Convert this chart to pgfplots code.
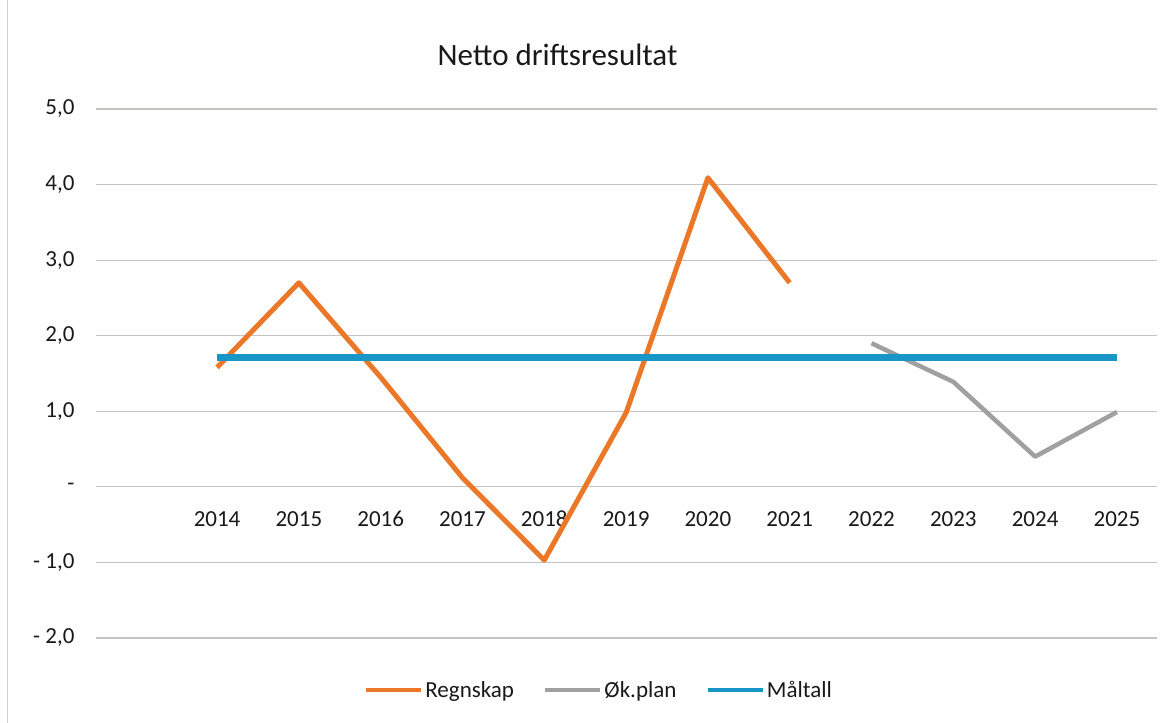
\documentclass[border=0pt]{standalone}
\usepackage{fontspec}
\setmainfont{Carlito}
\usepackage{pgfplots}
\pgfplotsset{compat=1.18}
\definecolor{orangeR}{RGB}{235,120,40}
\definecolor{grayP}{RGB}{160,160,160}
\definecolor{blueM}{RGB}{24,150,200}
\definecolor{gridc}{RGB}{200,194,194}
\definecolor{txt}{RGB}{25,25,25}
\begin{document}
\begin{tikzpicture}
\begin{axis}[
  scale only axis, width=1061pt, height=529pt,
  xmin=2012.52, xmax=2025.49, ymin=-2, ymax=5,
  axis line style={draw=none},
  major tick length=0pt,
  ytick={-2,-1,0,1,2,3,4,5},
  yticklabels={{- 2,0},{- 1,0},{-},{1,0},{2,0},{3,0},{4,0},{5,0}},
  xtick={2014,2015,2016,2017,2018,2019,2020,2021,2022,2023,2024,2025},
  xticklabels={2014,2015,2016,2017,2018,2019,2020,2021,2022,2023,2024,2025},
  ymajorgrids, major grid style={gridc, line width=1.2pt},
  tick label style={font=\fontsize{23}{27}\selectfont, text=txt},
  xticklabel style={yshift=130pt, text height=15pt, text depth=0pt},
  yticklabel style={xshift=-18pt},
  clip=false,
  legend style={at={(axis description cs:0.474,-0.098)}, anchor=center, draw=none, fill=none,
    legend columns=3, font=\fontsize{23}{27}\selectfont, text=txt,
    /tikz/every even column/.append style={column sep=27pt}},
  legend cell align=left,
  legend image code/.code={\draw[#1,line width=4.5pt] (0pt,0pt) -- (55pt,0pt);},
]
\addplot[orangeR, line width=5pt, line join=round] coordinates {
  (2014,1.58) (2015,2.70) (2016,1.45) (2017,0.12) (2018,-0.97) (2019,0.98) (2020,4.09) (2021,2.70)};
\addlegendentry{Regnskap}
\addplot[grayP, line width=4.5pt, line join=round] coordinates {
  (2022,1.90) (2023,1.39) (2024,0.40) (2025,0.99)};
\addlegendentry{Øk.plan}
\addplot[blueM, line width=6.5pt] coordinates {
  (2014,1.71) (2015,1.71) (2016,1.71) (2017,1.71) (2018,1.71) (2019,1.71) (2020,1.71) (2021,1.71) (2022,1.71) (2023,1.71) (2024,1.71) (2025,1.71)};
\addlegendentry{Måltall}
\node[font=\fontsize{31}{36}\selectfont, text=txt] at (axis description cs:0.435,1.102) {Netto driftsresultat};
\end{axis}
\path[use as bounding box] ([shift={(-96pt,-85pt)}]current axis.south west) rectangle ([shift={(18pt,109pt)}]current axis.north east);
\draw[gray!35, line width=1pt] ([shift={(-88pt,-95pt)}]current axis.south west) -- ++(0pt,740pt);
\end{tikzpicture}
\end{document}
